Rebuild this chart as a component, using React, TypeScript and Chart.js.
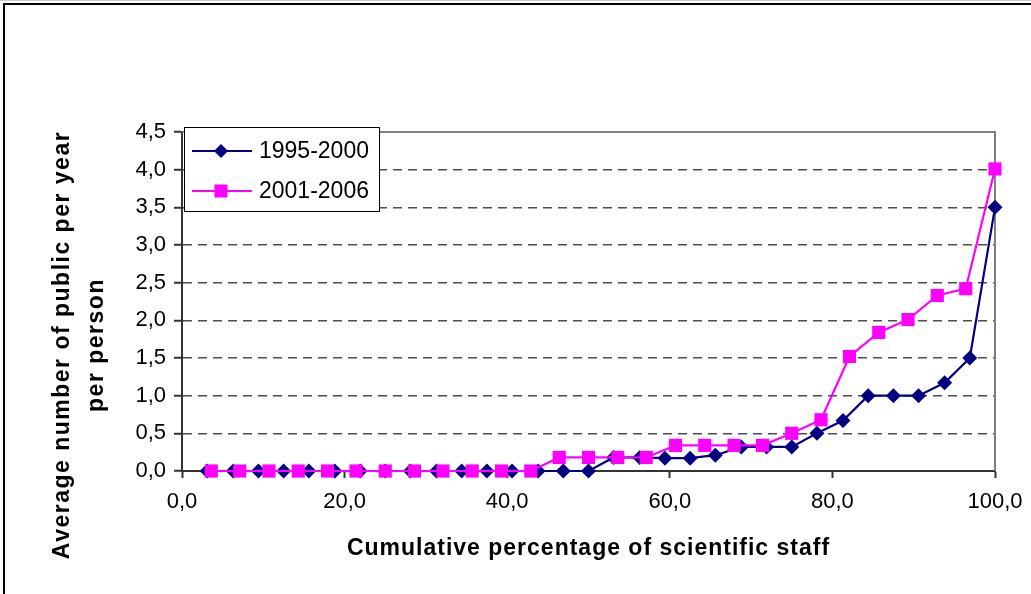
import React, { useEffect, useRef } from 'react';
import { Chart, registerables } from 'chart.js';

Chart.register(...registerables);

// ---- data ----
const seriesNames = ['1995-2000', '2001-2006'];

const x1995 = [3.1, 6.3, 9.4, 12.5, 15.6, 18.8, 21.9, 25.0, 28.1, 31.3, 34.4, 37.5, 40.6, 43.8, 46.9, 50.0,
  53.1, 56.3, 59.4, 62.5, 65.6, 68.8, 71.9, 75.0, 78.1, 81.3, 84.4, 87.5, 90.6, 93.8, 96.9, 100.0];
const y1995 = [0, 0, 0, 0, 0, 0, 0, 0, 0, 0, 0, 0, 0, 0, 0, 0,
  0.18, 0.18, 0.17, 0.17, 0.21, 0.32, 0.32, 0.32, 0.5, 0.67, 1.0, 1.0, 1.0, 1.17, 1.5, 3.5];

const x2001 = [3.6, 7.1, 10.7, 14.3, 17.9, 21.4, 25.0, 28.6, 32.1, 35.7, 39.3, 42.9, 46.4, 50.0,
  53.6, 57.1, 60.7, 64.3, 67.9, 71.4, 75.0, 78.6, 82.1, 85.7, 89.3, 92.9, 96.4, 100.0];
const y2001 = [0, 0, 0, 0, 0, 0, 0, 0, 0, 0, 0, 0, 0.18, 0.18,
  0.18, 0.18, 0.34, 0.34, 0.34, 0.34, 0.5, 0.68, 1.52, 1.84, 2.01, 2.33, 2.42, 4.01];

const xTickLabels = ['0,0', '20,0', '40,0', '60,0', '80,0', '100,0'];
const yTickLabels = ['0,0', '0,5', '1,0', '1,5', '2,0', '2,5', '3,0', '3,5', '4,0', '4,5'];
const xAxisTitle = 'Cumulative percentage of scientific staff';
const yAxisTitleLines = ['Average number of public per year', 'per person'];

const colors = ['#000080', '#FF00FF'];
const FONT = '"Liberation Sans", Arial, Helvetica, sans-serif';

const decorPlugin = {
  id: 'decor',
  beforeDraw(chart: any) {
    const ctx = chart.ctx;
    ctx.save();
    ctx.fillStyle = '#ffffff';
    ctx.fillRect(0, 0, chart.width, chart.height);
    ctx.strokeStyle = '#c8c8c8';
    ctx.lineWidth = 1;
    ctx.beginPath();
    ctx.moveTo(0, 0.5);
    ctx.lineTo(chart.width, 0.5);
    ctx.stroke();
    ctx.strokeStyle = '#000000';
    ctx.lineWidth = 2;
    ctx.strokeRect(4, 4, chart.width + 20, chart.height + 20);
    ctx.restore();
  },
  beforeDatasetsDraw(chart: any) {
    const ctx = chart.ctx;
    const { left, right, top, bottom } = chart.chartArea;
    ctx.save();
    ctx.strokeStyle = '#808080';
    ctx.lineWidth = 2;
    ctx.beginPath();
    ctx.moveTo(left, top);
    ctx.lineTo(right, top);
    ctx.lineTo(right, bottom);
    ctx.stroke();
    ctx.restore();
  },
  afterDraw(chart: any) {
    const ctx = chart.ctx;
    const { left, right } = chart.chartArea;
    ctx.save();
    // legend
    const bx = 184, by = 127, bw = 195, bh = 84;
    ctx.fillStyle = '#ffffff';
    ctx.fillRect(bx, by, bw, bh);
    ctx.strokeStyle = '#000000';
    ctx.lineWidth = 1;
    ctx.strokeRect(bx + 0.5, by + 0.5, bw, bh);
    const rows = [151, 191];
    const styles = ['rectRot', 'rect'];
    rows.forEach((ry, i) => {
      ctx.strokeStyle = colors[i];
      ctx.lineWidth = 2;
      ctx.beginPath();
      ctx.moveTo(192, ry);
      ctx.lineTo(252, ry);
      ctx.stroke();
      ctx.fillStyle = colors[i];
      ctx.beginPath();
      if (styles[i] === 'rectRot') {
        const r = 7;
        ctx.moveTo(221, ry - r);
        ctx.lineTo(221 + r, ry);
        ctx.lineTo(221, ry + r);
        ctx.lineTo(221 - r, ry);
        ctx.closePath();
      } else {
        const s = 6.5;
        ctx.rect(221 - s, ry - s, 2 * s, 2 * s);
      }
      ctx.fill();
      ctx.fillStyle = '#000000';
      ctx.font = `23px ${FONT}`;
      ctx.textAlign = 'left';
      ctx.textBaseline = 'middle';
      ctx.fillText(seriesNames[i], 259, ry + 1);
    });
    // axis titles
    ctx.fillStyle = '#000000';
    ctx.font = `bold 23px ${FONT}`;
    try { (ctx as any).letterSpacing = '1px'; } catch (e) {}
    ctx.textAlign = 'center';
    ctx.textBaseline = 'middle';
    ctx.fillText(xAxisTitle, (left + right) / 2, 549);
    try { (ctx as any).letterSpacing = '1.5px'; } catch (e) {}
    const cy = 345;
    const xs = [63, 97];
    yAxisTitleLines.forEach((line, i) => {
      ctx.save();
      ctx.translate(xs[i], cy);
      ctx.rotate(-Math.PI / 2);
      ctx.fillText(line, 0, 0);
      ctx.restore();
    });
    try { (ctx as any).letterSpacing = '0px'; } catch (e) {}
    ctx.restore();
  },
};

export default function App() {
  const canvasRef = useRef<HTMLCanvasElement | null>(null);

  useEffect(() => {
    const canvas = canvasRef.current;
    if (!canvas) return;
    const chart = new Chart(canvas, {
      type: 'line',
      data: {
        datasets: [
          {
            label: seriesNames[0],
            data: x1995.map((x, i) => ({ x, y: y1995[i] })),
            borderColor: colors[0],
            backgroundColor: colors[0],
            borderWidth: 2.2,
            pointStyle: 'rectRot',
            pointRadius: 7.5,
            pointBorderWidth: 0,
            pointBackgroundColor: colors[0],
            tension: 0,
            clip: false,
            order: 1,
          },
          {
            label: seriesNames[1],
            data: x2001.map((x, i) => ({ x, y: y2001[i] })),
            borderColor: colors[1],
            backgroundColor: colors[1],
            borderWidth: 2.2,
            pointStyle: 'rect',
            pointRadius: 9.3,
            pointBorderWidth: 0,
            pointBackgroundColor: colors[1],
            tension: 0,
            clip: false,
            order: 0,
          },
        ],
      },
      options: {
        animation: false,
        responsive: false,
        maintainAspectRatio: false,
        layout: { padding: { left: 0, right: 36, top: 132, bottom: 0 } },
        plugins: {
          legend: { display: false },
          tooltip: { enabled: false },
          title: { display: false },
        },
        scales: {
          x: {
            type: 'linear',
            min: 0,
            max: 100,
            afterFit: (s: any) => { s.height = 123; s.paddingLeft = 0; s.paddingRight = 0; },
            ticks: {
              stepSize: 20,
              autoSkip: false,
              maxRotation: 0,
              padding: 11,
              color: '#000000',
              font: { family: FONT, size: 22 },
              callback: (_v: any, i: number) => xTickLabels[i],
            },
            grid: {
              drawOnChartArea: false,
              drawTicks: true,
              tickLength: 7,
              tickColor: '#333333',
              tickWidth: 2,
            },
            border: { color: '#333333', width: 2 },
          },
          y: {
            type: 'linear',
            min: 0,
            max: 4.5,
            afterFit: (s: any) => { s.width = 182; s.paddingTop = 0; s.paddingBottom = 0; },
            ticks: {
              stepSize: 0.5,
              autoSkip: false,
              padding: 8,
              color: '#000000',
              font: { family: FONT, size: 22 },
              callback: (_v: any, i: number) => yTickLabels[i],
            },
            grid: {
              color: '#4d4d4d',
              lineWidth: 1.5,
              drawTicks: true,
              tickLength: 8,
              tickColor: '#333333',
              tickWidth: 2,
              tickBorderDash: [],
            },
            border: { color: '#333333', width: 2, dash: [9, 6] },
          },
        },
      },
      plugins: [decorPlugin],
    } as any);
    return () => chart.destroy();
  }, []);

  return (
    <div style={{ position: 'fixed', left: 0, top: 0, width: 1031, height: 594, background: '#fff' }}>
      <canvas ref={canvasRef} width={1031} height={594} style={{ display: 'block', width: 1031, height: 594 }} />
    </div>
  );
}
